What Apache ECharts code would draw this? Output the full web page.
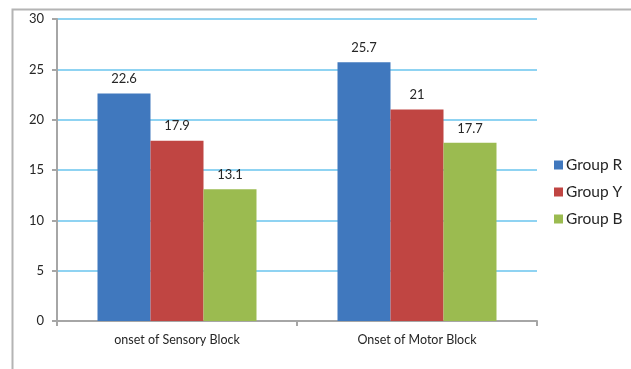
<!DOCTYPE html>
<html>
<head>
<meta charset="utf-8">
<script src="https://cdn.jsdelivr.net/npm/echarts@6/dist/echarts.min.js"></script>
<style>
  html, body { margin: 0; padding: 0; background: #fff; }
  #chart { width: 631px; height: 369px; }
</style>
</head>
<body>
<div id="chart"></div>
<script>
const categories = ['onset of Sensory Block', 'Onset of Motor Block'];
const groupR = [22.6, 25.7];
const groupY = [17.9, 21];
const groupB = [13.1, 17.7];
const seriesNames = ['Group R', 'Group Y', 'Group B'];
const seriesColors = ['#4078BE', '#C04542', '#9BBB50'];

const FONT = 'Lato, "Liberation Sans", sans-serif';

const chart = echarts.init(document.getElementById('chart'), null, { renderer: 'canvas' });

function barSeries(name, data, color) {
  return {
    name: name,
    type: 'bar',
    data: data,
    barGap: '0%',
    barCategoryGap: '33.75%',
    itemStyle: { color: color },
    label: {
      show: true,
      position: 'top',
      distance: 8,
      color: '#262626',
      fontFamily: FONT,
      fontSize: 13
    }
  };
}

chart.setOption({
  animation: false,
  backgroundColor: '#fff',
  textStyle: { fontFamily: FONT },
  graphic: [
    {
      type: 'polyline',
      shape: { points: [[12.5, 369], [12.5, 9.5], [631, 9.5]] },
      style: { stroke: '#B4B4B4', lineWidth: 2, fill: null },
      silent: true
    }
  ],
  grid: { left: 57, right: 94, top: 19, bottom: 48 },
  legend: {
    orient: 'vertical',
    left: 549,
    top: 152,
    itemWidth: 9,
    itemHeight: 9,
    itemGap: 11,
    icon: 'rect',
    textStyle: { fontSize: 15.5, color: '#262626', fontFamily: FONT, padding: [0, 0, 0, -2] },
    data: seriesNames
  },
  xAxis: {
    type: 'category',
    data: categories,
    axisLine: { lineStyle: { color: '#A6A6A6', width: 2 } },
    axisTick: { show: true, length: 5, inside: false, lineStyle: { color: '#A6A6A6', width: 2 } },
    axisLabel: { color: '#262626', fontSize: 12.5, margin: 12, fontFamily: FONT }
  },
  yAxis: {
    type: 'value',
    min: 0,
    max: 30,
    interval: 5,
    axisLine: { show: true, lineStyle: { color: '#A6A6A6', width: 2 } },
    axisTick: { show: true, length: 5, lineStyle: { color: '#A6A6A6', width: 2 } },
    axisLabel: { color: '#262626', fontSize: 13, margin: 13, fontFamily: FONT },
    splitLine: { lineStyle: { color: '#8FD3F2', width: 2 } }
  },
  series: [
    barSeries(seriesNames[0], groupR, seriesColors[0]),
    barSeries(seriesNames[1], groupY, seriesColors[1]),
    barSeries(seriesNames[2], groupB, seriesColors[2])
  ]
});
</script>
</body>
</html>
